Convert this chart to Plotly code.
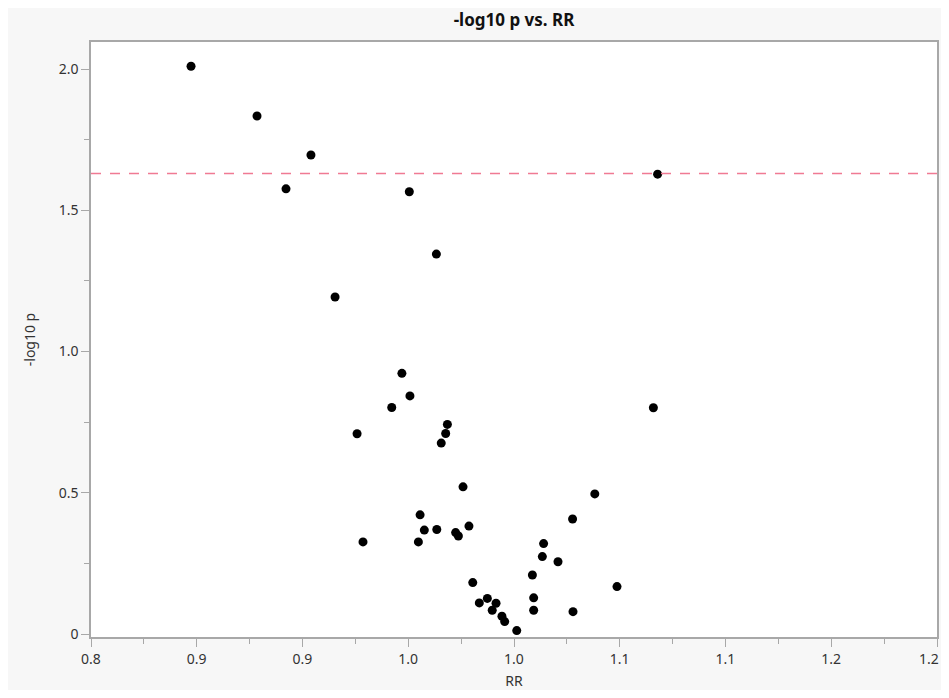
import plotly.graph_objects as go

# Data
rr = [0.8473, 0.8785, 0.8922, 0.9040, 0.9154, 0.9258, 0.9286, 0.9422, 0.9470, 0.9508,
      0.9505, 0.9548, 0.9556, 0.9576, 0.9635, 0.9633, 0.9656, 0.9677, 0.9685, 0.9724,
      0.9737, 0.9759, 0.9787, 0.9805, 0.9836, 0.9874, 0.9897, 0.9915, 0.9943, 0.9956,
      1.0013, 1.0087, 1.0093, 1.0093, 1.0134, 1.0140, 1.0208, 1.0277, 1.0279, 1.0382,
      1.0487, 1.0659, 1.0679]
neglog10p = [2.010, 1.834, 1.576, 1.696, 1.193, 0.709, 0.326, 0.802, 0.923, 0.843,
             1.566, 0.326, 0.422, 0.368, 0.370, 1.345, 0.676, 0.710, 0.742, 0.359,
             0.347, 0.521, 0.382, 0.182, 0.110, 0.126, 0.084, 0.109, 0.063, 0.044,
             0.012, 0.209, 0.128, 0.084, 0.274, 0.320, 0.256, 0.407, 0.079, 0.496,
             0.168, 0.801, 1.628]
threshold = 1.63

x_tickvals = [0.80, 0.85, 0.90, 0.95, 1.00, 1.05, 1.10, 1.15, 1.20]
x_ticktext = ["0.8", "0.9", "0.9", "1.0", "1.0", "1.1", "1.1", "1.2", "1.2"]
y_tickvals = [0, 0.5, 1.0, 1.5, 2.0]
y_ticktext = ["0", "0.5", "1.0", "1.5", "2.0"]

W, H = 933, 682
FONT = "Noto Sans"
AXIS_GREY = "#a8a8a8"
TICK_FONT = dict(family=FONT, size=14, color="#333333")

fig = go.Figure()
fig.add_trace(go.Scatter(
    x=rr, y=neglog10p, mode="markers",
    marker=dict(color="black", size=9, line=dict(width=0)),
    showlegend=False, hoverinfo="x+y",
))

fig.add_shape(type="line", xref="paper", x0=0, x1=1, yref="y", y0=threshold, y1=threshold,
              line=dict(color="#f07a93", width=1.5, dash="10px,9px"), layer="above")

# the last x tick label sits on the page edge: draw it right-anchored so it stays visible
shown_ticktext = x_ticktext[:-1] + [""]
fig.add_annotation(x=x_tickvals[-1], xref="x", y=0, yref="paper", text=x_ticktext[-1],
                   showarrow=False, xanchor="right", yanchor="top", xshift=4, yshift=-10,
                   font=TICK_FONT)

fig.update_layout(
    width=W, height=H,
    margin=dict(l=83, r=4, t=34, b=53, pad=0, autoexpand=False),
    paper_bgcolor="#f7f7f7",
    plot_bgcolor="white",
    font=dict(family=FONT, size=14, color="#333333"),
    title=dict(text="<b>-log10 p vs. RR</b>", x=506 / W, xanchor="center",
               y=1 - 12 / H, yanchor="middle", yref="container",
               font=dict(family=FONT, size=17, color="#111111")),
    xaxis=dict(
        automargin=False,
        range=[0.8, 1.2], tickmode="array", tickvals=x_tickvals, ticktext=shown_ticktext,
        ticks="outside", ticklen=8, tickcolor=AXIS_GREY, tickwidth=1,
        minor=dict(dtick=0.025, tick0=0.8, ticks="outside", ticklen=5,
                   tickcolor=AXIS_GREY, tickwidth=1, showgrid=False),
        showgrid=False, zeroline=False,
        showline=True, linecolor=AXIS_GREY, linewidth=1.5, mirror=True,
        title=dict(text="RR", standoff=20, font=dict(size=14)),
        tickfont=TICK_FONT,
    ),
    yaxis=dict(
        automargin=False,
        range=[-0.0106, 2.096], tickmode="array", tickvals=y_tickvals, ticktext=y_ticktext,
        ticks="outside", ticklen=8, tickcolor=AXIS_GREY, tickwidth=1,
        minor=dict(dtick=0.25, tick0=0, ticks="outside", ticklen=5,
                   tickcolor=AXIS_GREY, tickwidth=1, showgrid=False),
        showgrid=False, zeroline=False,
        showline=True, linecolor=AXIS_GREY, linewidth=1.5, mirror=True,
        title=dict(text="-log10 p", standoff=20, font=dict(size=14)),
        tickfont=TICK_FONT,
    ),
)

fig.write_html("out.html")
